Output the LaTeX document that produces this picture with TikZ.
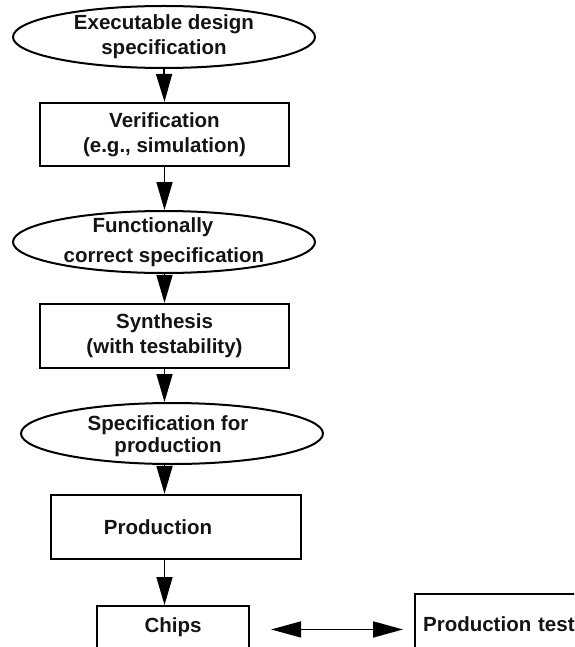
\documentclass[tikz,border=0pt]{standalone}
\usepackage{fontspec}
\setmainfont{Liberation Sans}
\usetikzlibrary{arrows.meta,shapes.geometric}
\begin{document}
\begin{tikzpicture}[x=1pt,y=-1pt,
 every node/.style={font=\bfseries\fontsize{20.5}{25}\selectfont, text=black!92},
 txt/.style={align=center, inner sep=0pt},
 box/.style={draw, line width=2.2pt, rectangle, inner sep=0pt, align=center},
 oval/.style={draw, line width=2pt, ellipse, inner sep=0pt},
 arr/.style={line width=1.7pt, -{Triangle[length=28pt,width=16pt]}},
 darr/.style={line width=1.7pt, {Triangle[length=30pt,width=16pt]}-{Triangle[length=30pt,width=16pt]}}]
\clip (0,0) rectangle (574,647);
\fill[white] (0,0) rectangle (574,647);

\node[oval, minimum width=302pt, minimum height=62pt] (e1) at (164,37) {};
\node[txt] (e1t) at (e1) {Executable design\\specification};

\node[box, minimum width=249pt, minimum height=63pt] (v) at (164.5,134.5) {Verification\\(e.g., simulation)};

\node[oval, minimum width=302pt, minimum height=62pt] (e2) at (164,242) {};
\node[txt] (e2t) at (e2) {Functionally\hspace*{22pt}\\[5pt]correct specification};

\node[box, minimum width=249pt, minimum height=64pt] (s) at (164.5,336) {Synthesis\\(with testability)};

\node[oval, minimum width=302pt, minimum height=61pt] (e3) at (172,433.5) {};
\node[txt] (e3t) at (168,436) {Specification for\\[-3pt]production};

\node[box, minimum width=250pt, minimum height=64pt] (p) at (176,527) {Production\hspace*{36pt}};

\node[box, anchor=north, minimum width=152pt, text height=26pt, text depth=24pt] (c) at (173,605) {Chips};

\node[box, anchor=north west, inner xsep=8pt, text height=37pt, text depth=30pt, text width=170pt, align=left] (t) at (414,593) {Production test};

\draw[arr] (e1.south) -- (v.north);
\draw[arr] (v.south) -- (v.south |- e2.north);
\draw[arr] (v.south |- e2.south) -- (s.north);
\draw[arr] (s.south) -- (s.south |- e3.north);
\draw[arr] (s.south |- e3.south) -- (s.south |- p.north);
\draw[arr] (s.south |- p.south) -- (s.south |- c.north);
\draw[darr, shorten <=21pt, shorten >=11pt] (c.mid east) -- (c.mid east -| t.west);
\end{tikzpicture}
\end{document}
